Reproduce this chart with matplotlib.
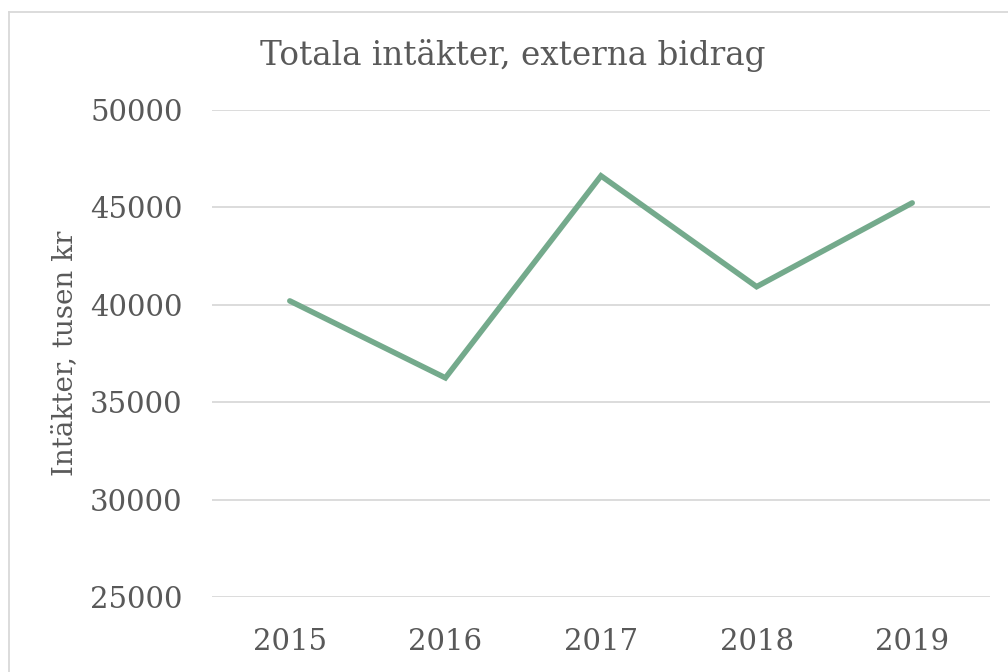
import matplotlib.pyplot as plt
from matplotlib.lines import Line2D

years = ["2015", "2016", "2017", "2018", "2019"]
intakter = [40200, 36250, 46620, 40930, 45230]
yticks = [25000, 30000, 35000, 40000, 45000, 50000]

text_col = "#595959"
plt.rcParams["font.family"] = ["DejaVu Serif"]

fig = plt.figure(figsize=(10.08, 6.72), dpi=100)
ax = fig.add_axes([212 / 1008, 1 - 597 / 672, (990 - 212) / 1008, (597 - 110) / 672])

ax.plot(range(len(years)), intakter, color="#74aa8c", linewidth=4,
        solid_capstyle="round", solid_joinstyle="miter", zorder=3)

ax.set_xlim(-0.5, len(years) - 0.5)
ax.set_ylim(25000, 50000)
ax.set_yticks(yticks)
ax.set_yticklabels([str(v) for v in yticks])
ax.set_xticks(range(len(years)))
ax.set_xticklabels(years)
ax.tick_params(axis="both", length=0, labelsize=21, colors=text_col)
ax.tick_params(axis="y", pad=21)
ax.tick_params(axis="x", pad=22)
ax.grid(axis="y", color="#d9d9d9", linewidth=1.3)
ax.set_axisbelow(True)
for s in ax.spines.values():
    s.set_visible(False)

ax.set_ylabel("Intäkter, tusen kr", fontsize=20, color=text_col, labelpad=9)
fig.text(513 / 1008, 1 - 55 / 672, "Totala intäkter, externa bidrag",
         ha="center", va="center", fontsize=23.5, color=text_col)

# outer chart border (left and top edges visible)
x0, y0 = 9 / 1008, 1 - 12 / 672
fig.lines.append(Line2D([x0, x0], [0, y0], transform=fig.transFigure, color="#d9d9d9", linewidth=1.3))
fig.lines.append(Line2D([x0, 1], [y0, y0], transform=fig.transFigure, color="#d9d9d9", linewidth=1.3))

fig.savefig("out.png", dpi=100)
